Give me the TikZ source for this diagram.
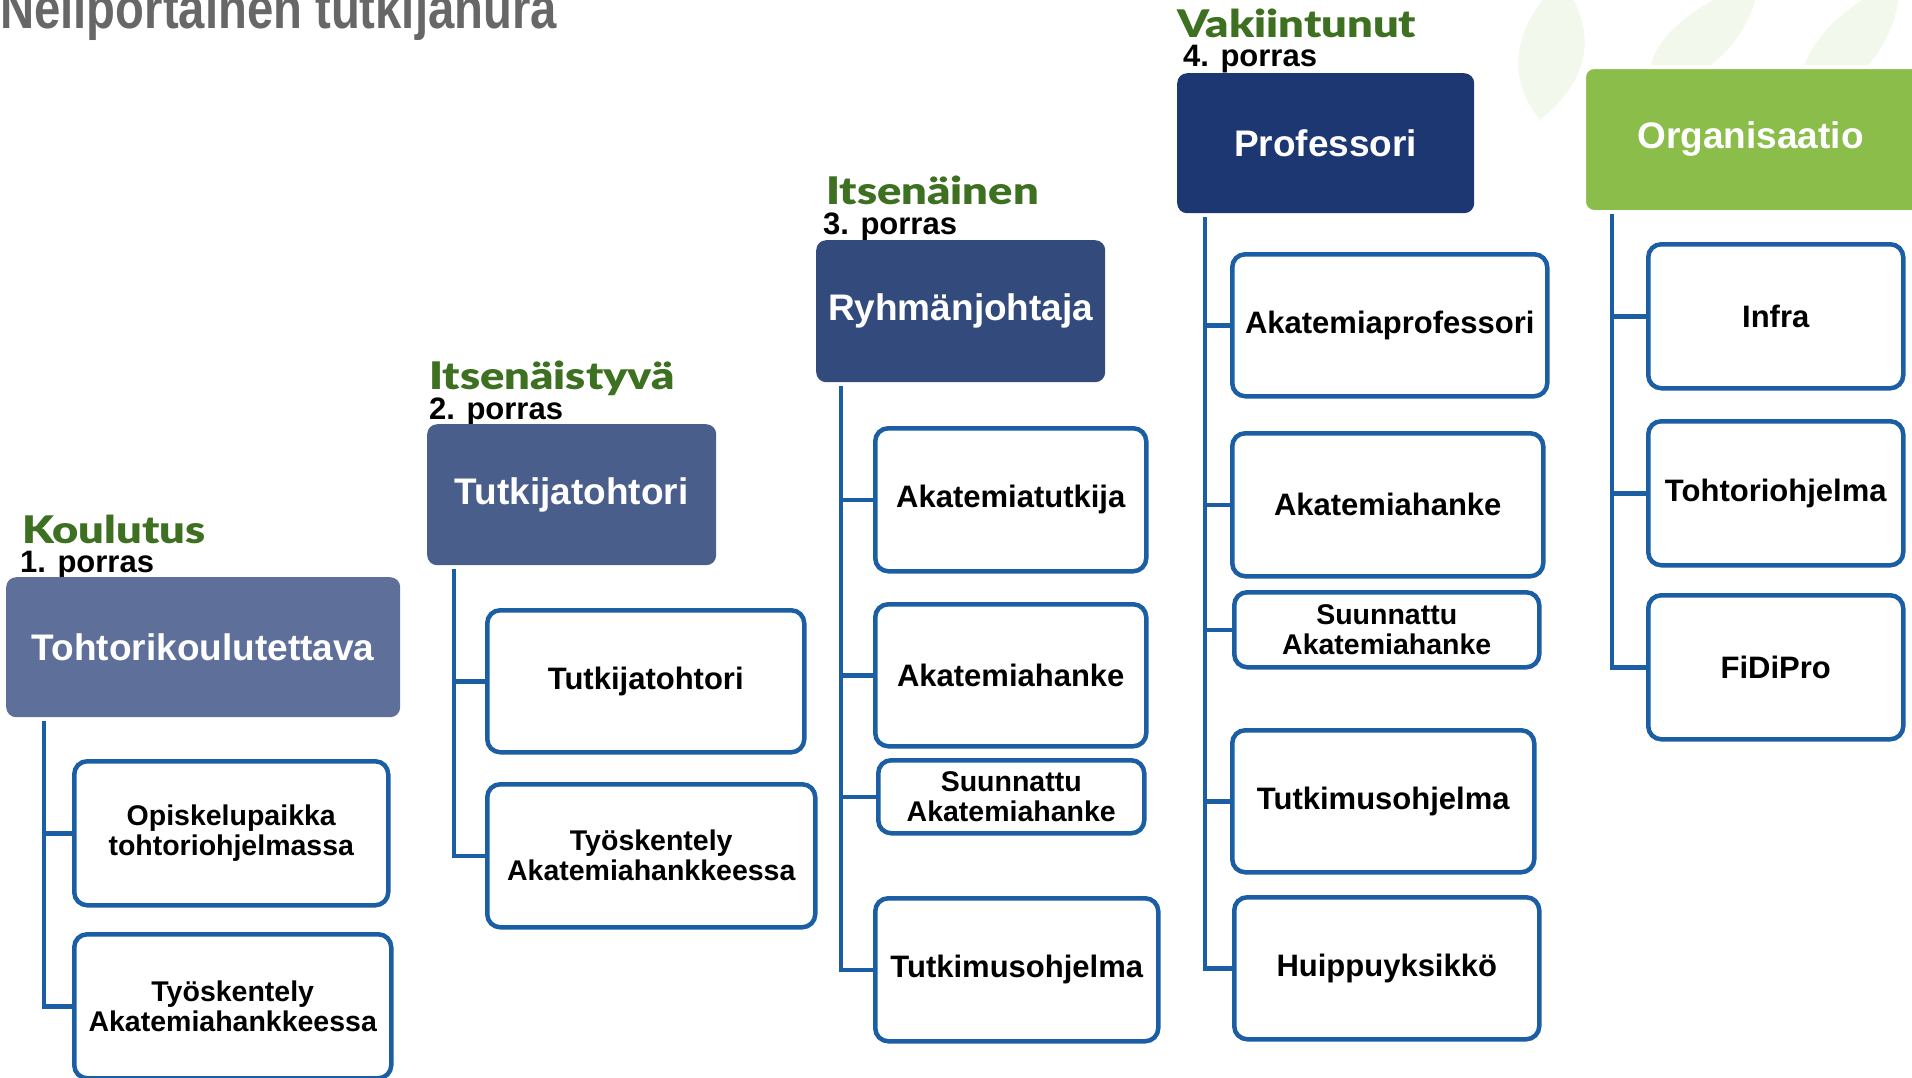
\documentclass[tikz,border=0pt]{standalone}
\usepackage{fontspec}
\setmainfont{Liberation Sans}
\newfontfamily\heavyfont{Lato Black}
\newcommand\stagetext[1]{\scalebox{1.19}[1]{#1}}
\usetikzlibrary{positioning}

\definecolor{lineblue}{HTML}{1B5EA3}
\definecolor{stagegreen}{HTML}{3D7020}
\definecolor{titlegray}{HTML}{676767}
\definecolor{headone}{HTML}{5E7099}
\definecolor{headtwo}{HTML}{4A5E8C}
\definecolor{headthree}{HTML}{324A7C}
\definecolor{headfour}{HTML}{1C3771}
\definecolor{headorg}{HTML}{8ABD4A}
\definecolor{leafgreen}{HTML}{F2F8EC}

\tikzset{
  header/.style={rounded corners=10pt, inner sep=0pt, anchor=north west, text=white,
    font=\fontsize{37}{40}\selectfont\bfseries},
  childbox/.style={draw=lineblue, line width=4.5pt, rounded corners=13pt, fill=white,
    inner sep=0pt, anchor=north west, align=center,
    font=\fontsize{31}{33}\selectfont\bfseries},
  twoline/.style={font=\fontsize{28.5}{30}\selectfont\bfseries},
  stage/.style={text=stagegreen, inner sep=0pt, anchor=base west,
    font=\heavyfont\fontsize{38}{38}\selectfont},
  porras/.style={inner sep=0pt, anchor=base west, font=\fontsize{31}{31}\selectfont\bfseries},
  conn/.style={draw=lineblue, line width=4.5pt}
}

\begin{document}
\begin{tikzpicture}[x=1pt, y=-1pt]
  \useasboundingbox (0,0) rectangle (1912,1077);
  \clip (0,0) rectangle (1912,1077);

  % faint leaves in the background
  \fill[leafgreen] (1540,120) .. controls (1500,70) and (1520,20) .. (1560,-20)
    .. controls (1600,30) and (1590,80) .. (1540,120);
  \fill[leafgreen] (1650,90) .. controls (1640,40) and (1700,0) .. (1760,-20)
    .. controls (1750,40) and (1710,80) .. (1650,90);
  \fill[leafgreen] (1800,110) .. controls (1790,60) and (1830,10) .. (1900,-20)
    .. controls (1900,40) and (1860,90) .. (1800,110);

  % title
  \node[inner sep=0pt, anchor=base west, text=titlegray,
    font=\fontsize{58}{58}\selectfont\bfseries] (title) at (0,28)
    {\scalebox{0.815}[1]{Neliportainen tutkijanura}};

  % 1. porras
  \node[stage] (s1) at (22,543) {\stagetext{Koulutus}};
  \node[porras] (n1) at (20,572) {1. porras};
  \node[header, fill=headone, minimum width=394pt, minimum height=140pt] (h1) at (6,577) {Tohtorikoulutettava};
  \node[childbox, twoline, minimum width=314pt, minimum height=144pt] (o1) at (72,759) {Opiskelupaikka\\tohtoriohjelmassa};
  \node[childbox, twoline, minimum width=317pt, minimum height=144pt] (o2) at (72,932) {Työskentely\\Akatemiahankkeessa};
  \coordinate (l1) at (44,721);
  \draw[conn] (l1) |- (o1.west);
  \draw[conn] (l1) |- (o2.west);

  % 2. porras
  \node[stage] (s2) at (429,389) {\stagetext{Itsenäistyvä}};
  \node[porras] (n2) at (429,419) {2. porras};
  \node[header, fill=headtwo, minimum width=289pt, minimum height=141pt] (h2) at (427,424) {Tutkijatohtori};
  \node[childbox, minimum width=317pt, minimum height=142pt] (t1) at (485,608) {Tutkijatohtori};
  \node[childbox, twoline, minimum width=328pt, minimum height=143pt] (t2) at (485,782) {Työskentely\\Akatemiahankkeessa};
  \coordinate (l2) at (454,569);
  \draw[conn] (l2) |- (t1.west);
  \draw[conn] (l2) |- (t2.west);

  % 3. porras
  \node[stage] (s3) at (826,204) {\stagetext{Itsenäinen}};
  \node[porras] (n3) at (823,234) {3. porras};
  \node[header, fill=headthree, minimum width=289pt, minimum height=142pt] (h3) at (816,240) {Ryhmänjohtaja};
  \node[childbox, minimum width=271pt, minimum height=143pt] (r1) at (873,426) {Akatemiatutkija};
  \node[childbox, minimum width=271pt, minimum height=142pt] (r2) at (873,602) {Akatemiahanke};
  \node[childbox, twoline, minimum width=266pt, minimum height=73pt] (r3) at (876,758) {Suunnattu\\Akatemiahanke};
  \node[childbox, minimum width=283pt, minimum height=143pt] (r4) at (873,896) {Tutkimusohjelma};
  \coordinate (l3) at (841,386);
  \foreach \c in {r1,r2,r3,r4}
    \draw[conn] (l3) |- (\c.west);

  % 4. porras
  \node[stage] (s4) at (1177,37) {\stagetext{Vakiintunut}};
  \node[porras] (n4) at (1183,66) {4. porras};
  \node[header, fill=headfour, minimum width=297pt, minimum height=140pt] (h4) at (1177,73) {Professori};
  \node[childbox, minimum width=315pt, minimum height=142pt] (p1) at (1230,252) {Akatemiaprofessori};
  \node[childbox, minimum width=311pt, minimum height=143pt] (p2) at (1230,431) {Akatemiahanke};
  \node[childbox, twoline, minimum width=305pt, minimum height=75pt] (p3) at (1232,590) {Suunnattu\\Akatemiahanke};
  \node[childbox, minimum width=302pt, minimum height=142pt] (p4) at (1230,728) {Tutkimusohjelma};
  \node[childbox, minimum width=305pt, minimum height=142pt] (p5) at (1232,895) {Huippuyksikkö};
  \coordinate (l4) at (1205,217);
  \foreach \c in {p1,p2,p3,p4,p5}
    \draw[conn] (l4) |- (\c.west);

  % organisaatio
  \node[header, fill=headorg, draw=white, line width=4pt, minimum width=345pt, minimum height=145pt] (h5) at (1582,65) {\hspace*{-12pt}Organisaatio};
  \node[childbox, minimum width=255pt, minimum height=144pt] (g1) at (1646,242) {Infra};
  \node[childbox, minimum width=255pt, minimum height=144pt] (g2) at (1646,419) {Tohtoriohjelma};
  \node[childbox, minimum width=255pt, minimum height=144pt] (g3) at (1646,593) {FiDiPro};
  \coordinate (l5) at (1612,214);
  \foreach \c in {g1,g2,g3}
    \draw[conn] (l5) |- (\c.west);
\end{tikzpicture}
\end{document}
